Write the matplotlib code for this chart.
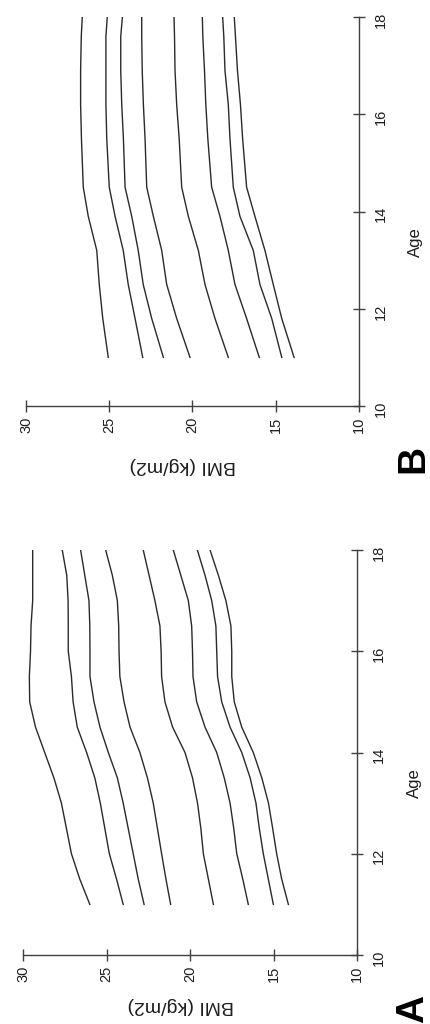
import matplotlib
matplotlib.use("Agg")
import matplotlib.pyplot as plt
import numpy as np

plt.rcParams['font.family'] = ['Liberation Sans', 'DejaVu Sans']

# ---------------- data ----------------
age_ticks = [10, 12, 14, 16, 18]
bmi_ticks = [10, 15, 20, 25, 30]

# Panel A
ages_a = [11, 11.5, 12, 12.5, 13, 13.5, 14, 14.5, 15, 15.5, 16, 16.5, 17, 17.5, 18]
a_c1 = [26.0, 26.6, 27.1, 27.4, 27.7, 28.15, 28.7, 29.25, 29.6, 29.62, 29.55, 29.52, 29.42, 29.42, 29.42]
a_c2 = [24.0, 24.4, 24.83, 25.1, 25.37, 25.7, 26.19, 26.75, 27.0, 27.1, 27.29, 27.29, 27.3, 27.38, 27.65]
a_c3 = [22.75, 23.1, 23.4, 23.7, 24.0, 24.35, 24.89, 25.39, 25.75, 25.99, 25.99, 26.0, 26.05, 26.3, 26.55]
a_c4 = [21.16, 21.44, 21.7, 21.95, 22.2, 22.55, 23.0, 23.59, 23.95, 24.2, 24.25, 24.27, 24.35, 24.65, 25.05]
a_c5 = [18.6, 18.9, 19.2, 19.35, 19.55, 19.85, 20.3, 21.04, 21.5, 21.7, 21.73, 21.8, 22.1, 22.45, 22.8]
a_c6 = [16.51, 16.84, 17.2, 17.38, 17.6, 17.95, 18.4, 19.1, 19.6, 19.82, 19.85, 19.9, 20.1, 20.55, 21.0]
a_c7 = [15.01, 15.31, 15.61, 15.85, 16.05, 16.4, 16.9, 17.6, 18.1, 18.35, 18.4, 18.45, 18.7, 19.1, 19.56]
a_c8 = [14.11, 14.51, 14.81, 15.05, 15.3, 15.7, 16.21, 16.9, 17.35, 17.5, 17.5, 17.55, 17.85, 18.3, 18.8]

# Panel B
ages_b = [11.0, 11.8, 12.5, 13.2, 13.9, 14.5, 15.5, 16.2, 16.9, 17.6, 18.0]
b_c1 = [25.06, 25.39, 25.6, 25.75, 26.26, 26.56, 26.67, 26.72, 26.72, 26.68, 26.62]
b_c2 = [22.99, 23.45, 23.86, 24.16, 24.65, 25.0, 25.15, 25.2, 25.2, 25.2, 25.12]
b_c3 = [21.75, 22.45, 22.96, 23.26, 23.65, 24.05, 24.15, 24.25, 24.31, 24.31, 24.21]
b_c4 = [20.15, 20.95, 21.55, 21.85, 22.35, 22.75, 22.85, 22.95, 23.02, 23.05, 23.05]
b_c5 = [17.85, 18.65, 19.25, 19.65, 20.25, 20.65, 20.8, 20.95, 21.05, 21.08, 21.11]
b_c6 = [15.99, 16.75, 17.45, 17.85, 18.35, 18.85, 19.08, 19.2, 19.28, 19.38, 19.41]
b_c7 = [14.64, 15.24, 15.95, 16.35, 17.15, 17.55, 17.75, 17.85, 18.05, 18.12, 18.19]
b_c8 = [13.9, 14.64, 15.15, 15.65, 16.25, 16.75, 16.99, 17.12, 17.3, 17.42, 17.49]

panel_a = [a_c1, a_c2, a_c3, a_c4, a_c5, a_c6, a_c7, a_c8]
panel_b = [b_c1, b_c2, b_c3, b_c4, b_c5, b_c6, b_c7, b_c8]

# ---------------- figure ----------------
W, H = 430, 1024
fig = plt.figure(figsize=(W / 100, H / 100), dpi=100)
fig.patch.set_facecolor('white')

AX_COL = '#404040'
LINE_COL = '#2a2a2a'
TXT_COL = '#1e1e1e'


def px_rect(x0, x1, y_top, y_bot):
    return [x0 / W, (H - y_bot) / H, (x1 - x0) / W, (y_bot - y_top) / H]


def make_panel(rect, ages, curves, letter, letter_xy, bmi_lab_xy, age_lab_xy):
    ax = fig.add_axes(rect)
    for c in curves:
        ax.plot(c, ages, color=LINE_COL, lw=1.0, solid_joinstyle='miter')
    ax.set_xlim(30, 10)
    ax.set_ylim(10, 18)
    for s in ('top', 'left'):
        ax.spines[s].set_visible(False)
    for s in ('bottom', 'right'):
        ax.spines[s].set_color(AX_COL)
        ax.spines[s].set_linewidth(1.0)
    ax.yaxis.tick_right()
    ax.yaxis.set_label_position('right')
    ax.set_xticks(bmi_ticks)
    ax.set_yticks(age_ticks)
    ax.set_xticklabels([str(v) for v in bmi_ticks])
    ax.set_yticklabels([str(v) for v in age_ticks])
    ax.tick_params(axis='x', direction='inout', length=9, width=1.0, color=AX_COL,
                   labelrotation=90, labelsize=10.5, pad=3, labelcolor=TXT_COL)
    ax.tick_params(axis='y', direction='inout', length=9, width=1.0, color=AX_COL,
                   labelrotation=90, labelsize=10.5, pad=6, labelcolor=TXT_COL)
    ax.set_xlabel('BMI (kg/m2)', rotation=180, fontsize=14, color=TXT_COL)
    ax.xaxis.set_label_coords(*bmi_lab_xy)
    ax.set_ylabel('Age', rotation=90, fontsize=12, color=TXT_COL)
    ax.yaxis.set_label_coords(*age_lab_xy)
    fig.text(letter_xy[0] / W, 1 - letter_xy[1] / H, letter, rotation=90,
             fontsize=28, fontweight='bold', ha='center', va='center', color='black')
    return ax


make_panel(px_rect(26, 359, 17, 406), ages_b, panel_b, 'B', (413, 459),
           (0.471, -0.131), (1.147, 0.42))
make_panel(px_rect(23, 357, 550, 955), ages_a, panel_a, 'A', (413, 1009),
           (0.473, -0.104), (1.150, 0.425))

fig.savefig('out.png', dpi=100, facecolor='white')
